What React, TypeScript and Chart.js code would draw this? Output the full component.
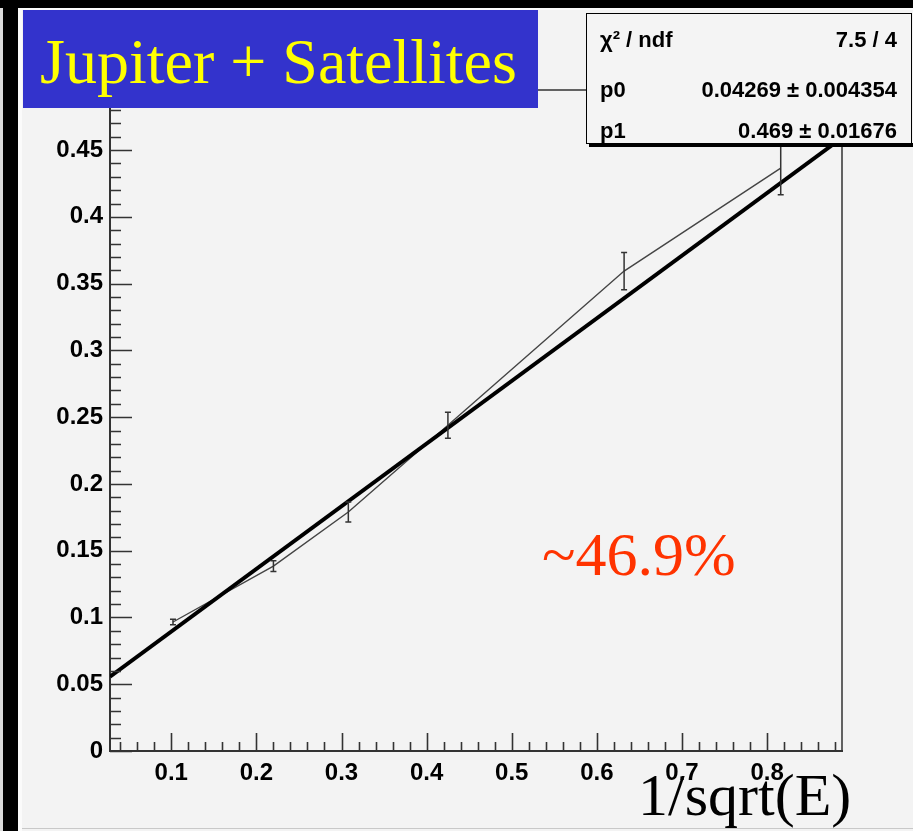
import React, { useEffect, useRef } from "react";
import { Chart, registerables } from "chart.js";

Chart.register(...registerables);

// ---- data ----
const xValues = [0.102, 0.22, 0.308, 0.425, 0.632, 0.816];
const yValues = [0.0966, 0.1385, 0.179, 0.244, 0.3594, 0.4365];
const yErrors = [0.002, 0.004, 0.0075, 0.0097, 0.014, 0.02];
const fitX = [0.028, 0.888];
const fitY = [0.0557, 0.4592];
const xTickValues = [0.1, 0.2, 0.3, 0.4, 0.5, 0.6, 0.7, 0.8];
const yTickValues = [0, 0.05, 0.1, 0.15, 0.2, 0.25, 0.3, 0.35, 0.4, 0.45];
const statNames = ["χ² / ndf", "p0", "p1"];
const statValues = ["7.5 / 4", "0.04269 ± 0.004354", "0.469 ± 0.01676"];
const titleText = "Jupiter + Satellites";
const noteText = "~46.9%";
const xAxisTitle = "1/sqrt(E)";

const X_MIN = 0.028;
const X_MAX = 0.888;
const Y_MIN = 0;
const Y_MAX = 0.495;

const SANS = "'Liberation Sans', Arial, Helvetica, sans-serif";
const SERIF = "'Liberation Serif', 'Times New Roman', serif";

const fmt = (v: number) => String(Math.round(v * 1000) / 1000);

const bgPlugin = {
  id: "bgPlugin",
  beforeDraw(chart: any) {
    const { ctx, width, height } = chart;
    ctx.save();
    ctx.fillStyle = "#f3f3f3";
    ctx.fillRect(0, 0, width, height);
    ctx.fillStyle = "#dcdcdc";
    ctx.fillRect(0, 0, 3, height);
    ctx.fillStyle = "#fbfbfb";
    ctx.fillRect(18, 8, 4, height);
    ctx.fillRect(18, 8, width, 2);
    ctx.fillStyle = "#000";
    ctx.fillRect(0, 0, width, 8);
    ctx.fillRect(3, 0, 15, height);
    ctx.fillStyle = "#c8c8c8";
    ctx.fillRect(22, height - 3, width, 1);
    ctx.restore();
  },
};

const decorPlugin = {
  id: "decorPlugin",
  afterDatasetsDraw(chart: any) {
    const { ctx, scales, chartArea } = chart;
    const x = scales.x;
    const y = scales.y;
    ctx.save();
    // error bars
    ctx.strokeStyle = "#333";
    ctx.lineWidth = 1.5;
    xValues.forEach((xv, i) => {
      const px = x.getPixelForValue(xv);
      const top = y.getPixelForValue(yValues[i] + yErrors[i]);
      const bot = y.getPixelForValue(yValues[i] - yErrors[i]);
      ctx.beginPath();
      ctx.moveTo(px, top);
      ctx.lineTo(px, bot);
      ctx.moveTo(px - 3, top);
      ctx.lineTo(px + 3, top);
      ctx.moveTo(px - 3, bot);
      ctx.lineTo(px + 3, bot);
      ctx.stroke();
    });
    // frame top and right
    ctx.strokeStyle = "#333";
    ctx.lineWidth = 1.5;
    ctx.beginPath();
    ctx.moveTo(chartArea.left, chartArea.top);
    ctx.lineTo(chartArea.right, chartArea.top);
    ctx.lineTo(chartArea.right, chartArea.bottom);
    ctx.stroke();
    // ticks (inside)
    ctx.strokeStyle = "#333";
    ctx.lineWidth = 1.6;
    ctx.beginPath();
    for (let k = 0; k <= 49; k++) {
      const v = k * 0.01;
      const py = Math.round(y.getPixelForValue(v)) + 0.5;
      const len = k % 5 === 0 ? 22 : 11;
      ctx.moveTo(chartArea.left, py);
      ctx.lineTo(chartArea.left + len, py);
    }
    for (let k = 2; k <= 44; k++) {
      const v = k * 0.02;
      const px = Math.round(x.getPixelForValue(v)) + 0.5;
      const len = k % 5 === 0 ? 18 : 9;
      ctx.moveTo(px, chartArea.bottom);
      ctx.lineTo(px, chartArea.bottom - len);
    }
    ctx.stroke();
    ctx.restore();
  },
  afterDraw(chart: any) {
    const { ctx } = chart;
    ctx.save();
    // title box
    ctx.fillStyle = "#3333cc";
    ctx.fillRect(23, 10, 515, 98);
    ctx.fillStyle = "#ffff00";
    ctx.font = `64px ${SERIF}`;
    ctx.textBaseline = "alphabetic";
    ctx.textAlign = "left";
    ctx.fillText(titleText, 40, 83);
    // stat box
    ctx.fillStyle = "#000";
    ctx.fillRect(589, 143, 330, 4);
    ctx.fillStyle = "#f4f4f4";
    ctx.fillRect(586, 13, 325, 131);
    ctx.strokeStyle = "#000";
    ctx.lineWidth = 1;
    ctx.strokeRect(586.5, 13.5, 325, 130);
    ctx.fillStyle = "#000";
    ctx.font = `bold 22px ${SANS}`;
    const baselines = [47, 97, 138];
    statNames.forEach((n, i) => {
      ctx.textAlign = "left";
      ctx.fillText(n, 600, baselines[i]);
      ctx.textAlign = "right";
      ctx.fillText(statValues[i], 897, baselines[i]);
    });
    // note
    ctx.textAlign = "left";
    ctx.fillStyle = "#ff3300";
    ctx.font = `62px ${SERIF}`;
    ctx.fillText(noteText, 542, 575);
    // x axis title
    ctx.fillStyle = "#000";
    ctx.font = `60px ${SERIF}`;
    ctx.fillText(xAxisTitle, 638, 815);
    ctx.restore();
  },
};

export default function App() {
  const ref = useRef<HTMLCanvasElement | null>(null);
  useEffect(() => {
    if (!ref.current) return;
    const chart = new Chart(ref.current, {
      type: "scatter",
      data: {
        datasets: [
          {
            label: "fit",
            data: fitX.map((xv, i) => ({ x: xv, y: fitY[i] })),
            showLine: true,
            borderColor: "#000",
            borderWidth: 4,
            pointRadius: 0,
          },
          {
            label: "data",
            data: xValues.map((xv, i) => ({ x: xv, y: yValues[i] })),
            showLine: true,
            borderColor: "#444",
            borderWidth: 1.4,
            pointRadius: 0,
          },
        ],
      },
      options: {
        responsive: false,
        animation: false,
        devicePixelRatio: 1,
        layout: { padding: { left: 0, top: 90, right: 71, bottom: 0 } },
        plugins: { legend: { display: false }, tooltip: { enabled: false } },
        scales: {
          x: {
            type: "linear",
            min: X_MIN,
            max: X_MAX,
            afterBuildTicks: (s: any) => {
              s.ticks = xTickValues.map((v) => ({ value: v }));
            },
            afterFit: (s: any) => {
              s.height = 80;
            },
            ticks: {
              callback: (v: any) => fmt(Number(v)),
              color: "#000",
              font: { family: SANS, size: 24, weight: "bold" },
              padding: 8,
              maxRotation: 0,
              autoSkip: false,
            },
            grid: { drawOnChartArea: false, drawTicks: false },
            border: { display: true, color: "#333", width: 2 },
          },
          y: {
            type: "linear",
            min: Y_MIN,
            max: Y_MAX,
            afterBuildTicks: (s: any) => {
              s.ticks = yTickValues.map((v) => ({ value: v }));
            },
            afterFit: (s: any) => {
              s.width = 110;
            },
            ticks: {
              callback: (v: any) => fmt(Number(v)),
              color: "#000",
              font: { family: SANS, size: 24, weight: "bold" },
              padding: 7,
              autoSkip: false,
            },
            grid: { drawOnChartArea: false, drawTicks: false },
            border: { display: true, color: "#333", width: 2 },
          },
        },
      } as any,
      plugins: [bgPlugin, decorPlugin],
    });
    return () => chart.destroy();
  }, []);
  return (
    <div style={{ position: "absolute", left: 0, top: 0, width: 913, height: 831 }}>
      <canvas ref={ref} width={913} height={831} style={{ width: 913, height: 831, display: "block" }} />
    </div>
  );
}
